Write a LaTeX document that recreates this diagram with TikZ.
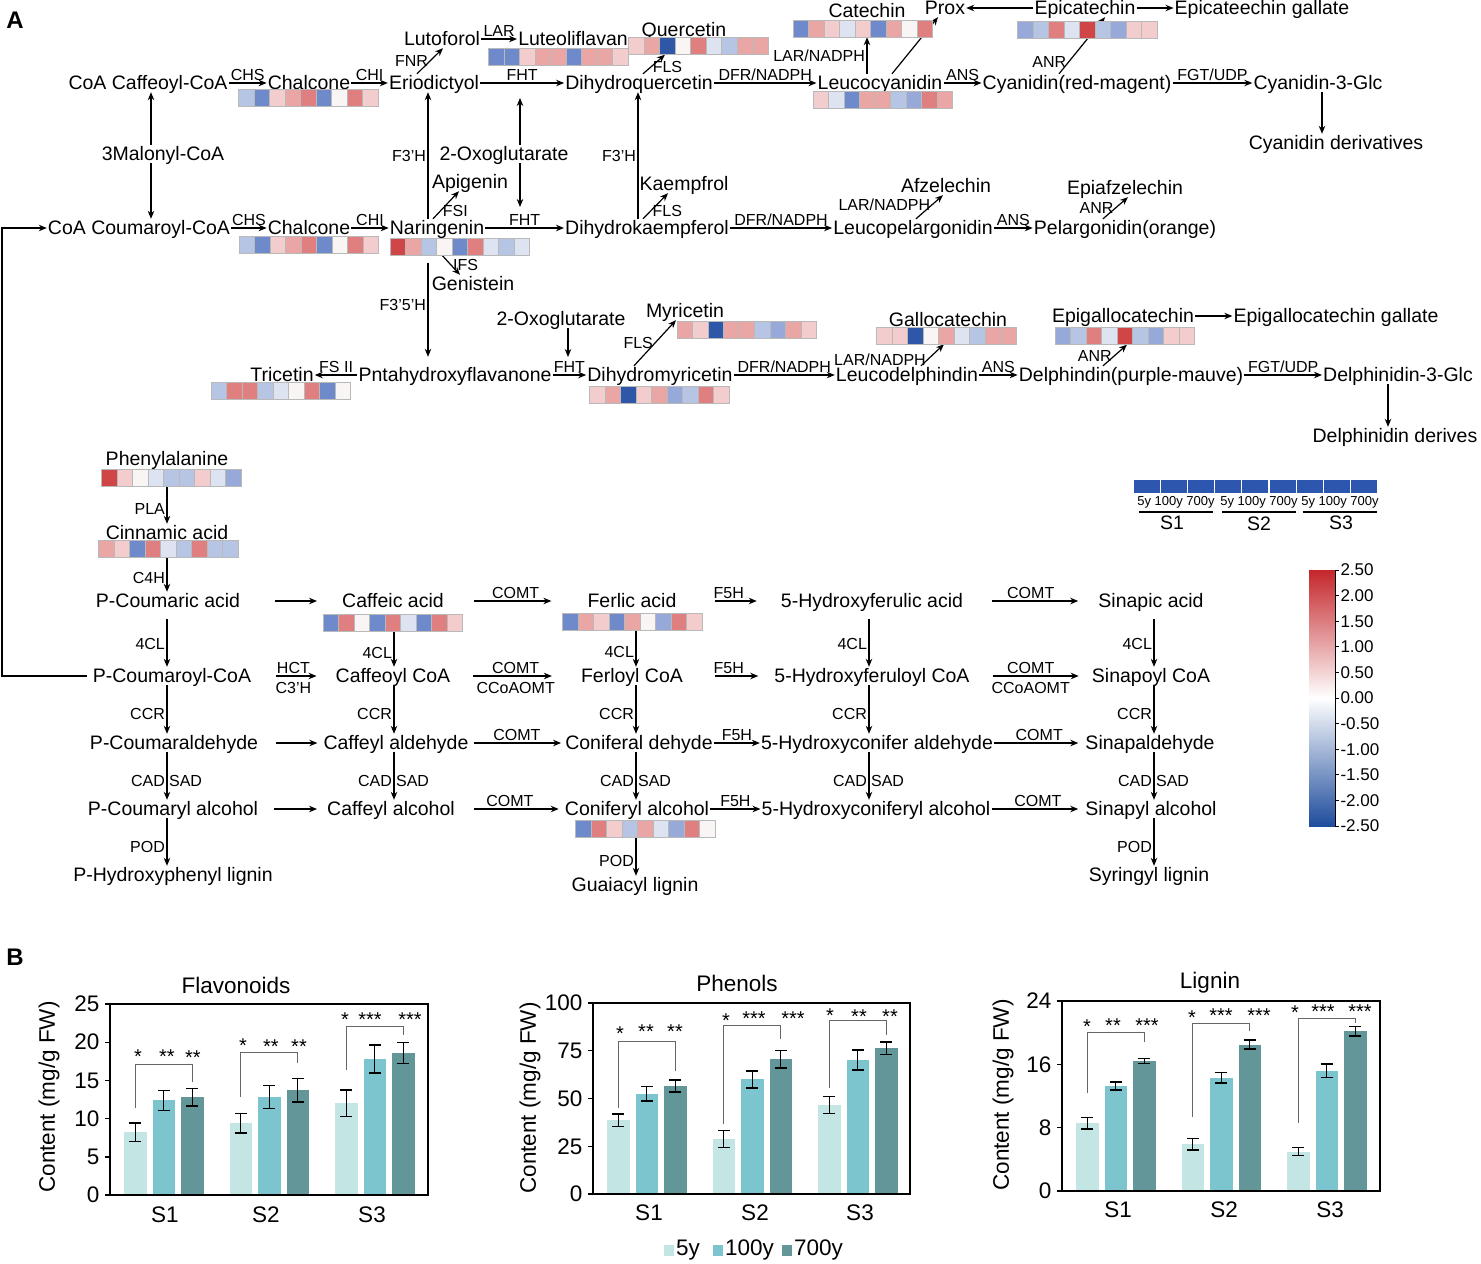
\documentclass[tikz,border=0pt]{standalone}
\usepackage{fontspec}
\setmainfont{Liberation Sans}
\usetikzlibrary{arrows.meta}

% heatmap shades
\definecolor{hR}{HTML}{D04545}
\definecolor{hS}{HTML}{E07F7F}
\definecolor{hP}{HTML}{EAA5A5}
\definecolor{hQ}{HTML}{F3CDCD}
\definecolor{hW}{HTML}{FAF5F5}
\definecolor{hL}{HTML}{DDE3F1}
\definecolor{hM}{HTML}{B7C5E4}
\definecolor{hN}{HTML}{96A9D8}
\definecolor{hB}{HTML}{6E8ACA}
\definecolor{hD}{HTML}{2F57A8}
\definecolor{legblue}{HTML}{2D56AE}
\definecolor{cbRed}{HTML}{C4262B}
\definecolor{cbBlue}{HTML}{1E4C9C}
% bar colours
\definecolor{bar0}{HTML}{C3E5E4}
\definecolor{bar1}{HTML}{7CC5CF}
\definecolor{bar2}{HTML}{629699}

% one row of heatmap cells in a heatmap node
\newcommand\hmrow[2]{%
  \foreach \hc [count=\hi from 0] in {#2}
    \draw[draw=gray!55, line width=0.6pt, fill=\hc] ([xshift=\hi*15.5pt]#1.north west) rectangle ++(15.5,17);
}

\begin{document}
\begin{tikzpicture}[x=1pt, y=-1pt,
    cpd/.style={inner sep=1pt, font=\fontsize{19.5}{22}\selectfont, text height=14pt, text depth=2pt},
    enz/.style={inner sep=1.5pt, font=\fontsize{16}{18}\selectfont},
    arr/.style={->, >={Stealth[length=8pt, width=6.5pt]}, line width=1.2pt},
    hmap/.style={minimum width=139.5pt, minimum height=17pt, inner sep=0pt},
    leg/.style={minimum width=26pt, minimum height=13pt, inner sep=0pt, fill=legblue},
    cbl/.style={font=\fontsize{17}{18}\selectfont, inner sep=1pt},
    axisline/.style={line width=1.4pt},
    errbar/.style={line width=1.4pt},
    brk/.style={gray!80!black, line width=1pt},
    chart/.style={font=\fontsize{22.5}{24}\selectfont},
    sig/.style={font=\fontsize{20}{20}\selectfont, inner sep=0pt, yshift=-4pt}]
\useasboundingbox (0,0) rectangle (1481,1264);

\node[font=\fontsize{24}{24}\selectfont\bfseries, inner sep=0pt] (labA) at (15,20) {A};
\node[font=\fontsize{24}{24}\selectfont\bfseries, inner sep=0pt] (labB) at (15,957) {B};

% flavonoid part
\node[cpd] (caff) at (148,83) {CoA Caffeoyl-CoA};
\node[cpd] (chal1) at (309,83) {Chalcone};
\node[cpd] (erio) at (434,83) {Eriodictyol};
\node[cpd] (dhq) at (639,83) {Dihydroquercetin};
\node[cpd] (leuc) at (880,83) {Leucocyanidin};
\node[cpd] (cyan) at (1077,83) {Cyanidin(red-magent)};
\node[cpd] (cy3g) at (1318,83) {Cyanidin-3-Glc};
\node[cpd] (cyder) at (1336,143) {Cyanidin derivatives};
\node[cpd] (luto) at (442,39) {Lutoforol};
\node[cpd] (lutl) at (573,39) {Luteoliflavan};
\node[cpd] (quer) at (684,30) {Quercetin};
\node[cpd] (cat) at (867,11) {Catechin};
\node[cpd] (prox) at (945,8) {Prox};
\node[cpd] (epic) at (1085,8) {Epicatechin};
\node[cpd] (epicg) at (1262,8) {Epicateechin gallate};
\node[cpd] (malo) at (163,154) {3Malonyl-CoA};
\node[cpd] (oxoA) at (504,154) {2-Oxoglutarate};
\node[cpd] (coum) at (139,228) {CoA Coumaroyl-CoA};
\node[cpd] (chal2) at (309,228) {Chalcone};
\node[cpd] (nar) at (437,228) {Naringenin};
\node[cpd] (api) at (470,182) {Apigenin};
\node[cpd] (gen) at (473,284) {Genistein};
\node[cpd] (dhk) at (647,228) {Dihydrokaempferol};
\node[cpd] (kae) at (684,184) {Kaempfrol};
\node[cpd] (leup) at (913,228) {Leucopelargonidin};
\node[cpd] (afz) at (946,186) {Afzelechin};
\node[cpd] (pel) at (1125,228) {Pelargonidin(orange)};
\node[cpd] (epiaf) at (1125,188) {Epiafzelechin};
\node[cpd] (penta) at (455,375) {Pntahydroxyflavanone};
\node[cpd] (tric) at (282,375) {Tricetin};
\node[cpd] (oxoB) at (561,319) {2-Oxoglutarate};
\node[cpd] (dhm) at (660,375) {Dihydromyricetin};
\node[cpd] (myr) at (685,311) {Myricetin};
\node[cpd] (leud) at (907,375) {Leucodelphindin};
\node[cpd] (gallo) at (948,320) {Gallocatechin};
\node[cpd] (delph) at (1131,375) {Delphindin(purple-mauve)};
\node[cpd] (epig) at (1123,316) {Epigallocatechin};
\node[cpd] (epigg) at (1336,316) {Epigallocatechin gallate};
\node[cpd] (de3g) at (1398,375) {Delphinidin-3-Glc};
\node[cpd] (deder) at (1395,436) {Delphinidin derives};

% phenylpropanoid part
\node[cpd] (phe) at (167,459) {Phenylalanine};
\node[cpd] (cin) at (167,533) {Cinnamic acid};
\node[cpd] (pca) at (168,601) {P-Coumaric acid};
\node[cpd] (pcoa) at (172,676) {P-Coumaroyl-CoA};
\node[cpd] (pcald) at (174,743) {P-Coumaraldehyde};
\node[cpd] (pcalc) at (173,809) {P-Coumaryl alcohol};
\node[cpd] (phl) at (173,875) {P-Hydroxyphenyl lignin};
\node[cpd] (cfa) at (393,601) {Caffeic acid};
\node[cpd] (cfcoa) at (393,676) {Caffeoyl CoA};
\node[cpd] (cfald) at (396,743) {Caffeyl aldehyde};
\node[cpd] (cfalc) at (391,809) {Caffeyl alcohol};
\node[cpd] (fea) at (632,601) {Ferlic acid};
\node[cpd] (fecoa) at (632,676) {Ferloyl CoA};
\node[cpd] (conald) at (639,743) {Coniferal dehyde};
\node[cpd] (conalc) at (637,809) {Coniferyl alcohol};
\node[cpd] (gul) at (635,885) {Guaiacyl lignin};
\node[cpd] (hfa) at (872,601) {5-Hydroxyferulic acid};
\node[cpd] (hfcoa) at (872,676) {5-Hydroxyferuloyl CoA};
\node[cpd] (hcald) at (877,743) {5-Hydroxyconifer aldehyde};
\node[cpd] (hcalc) at (876,809) {5-Hydroxyconiferyl alcohol};
\node[cpd] (sia) at (1151,601) {Sinapic acid};
\node[cpd] (sicoa) at (1151,676) {Sinapoyl CoA};
\node[cpd] (siald) at (1150,743) {Sinapaldehyde};
\node[cpd] (sialc) at (1151,809) {Sinapyl alcohol};
\node[cpd] (syl) at (1149,875) {Syringyl lignin};

% heatmap places
\node[hmap] (hChalA) at (308.5,98) {};
\node[hmap] (hLutl) at (558.5,56.5) {};
\node[hmap] (hQuer) at (698.5,46) {};
\node[hmap] (hCat) at (863,28.5) {};
\node[hmap] (hEpic) at (1087.5,29.5) {};
\node[hmap] (hLeuc) at (883,100) {};
\node[hmap] (hChalB) at (309,245) {};
\node[hmap] (hNar) at (460,246.5) {};
\node[hmap] (hTric) at (281,390.5) {};
\node[hmap] (hDhm) at (659.5,395) {};
\node[hmap] (hMyr) at (747,329.5) {};
\node[hmap] (hGallo) at (946.5,335.5) {};
\node[hmap] (hEpig) at (1125,336) {};
\node[hmap] (hPhe) at (171.5,478) {};
\node[hmap] (hCin) at (168.5,548.5) {};
\node[hmap] (hCfa) at (393,623) {};
\node[hmap] (hFea) at (632.5,621.5) {};
\node[hmap] (hConalc) at (645.5,829) {};

% x lines of vertical arrows
\coordinate (kmal) at (151,0);
\coordinate (kf1) at (428,0);
\coordinate (kox) at (520,0);
\coordinate (kf2) at (638,0);
\coordinate (kcat) at (867,0);
\coordinate (kcy) at (1322,0);
\coordinate (kox2) at (568,0);
\coordinate (kde) at (1388,0);
\coordinate (kfb) at (2,0);
\coordinate (k1) at (167,0);
\coordinate (k2) at (394,0);
\coordinate (k3) at (636,0);
\coordinate (k4) at (869,0);
\coordinate (k5) at (1154,0);
\coordinate (oxA1) at (520,98);
\coordinate (oxA2) at (520,207);
\coordinate (oxB1) at (568,357);

\foreach \a/\b/\t in {caff/chal1/CHS, chal1/erio/CHI, erio/dhq/FHT, dhq/leuc/{DFR/NADPH},
    leuc/cyan/ANS, cyan/cy3g/{FGT/UDP}, luto/lutl/LAR, coum/chal2/CHS, chal2/nar/CHI,
    nar/dhk/FHT, dhk/leup/{DFR/NADPH}, leup/pel/ANS, penta/tric/{FS II}, penta/dhm/FHT,
    dhm/leud/{DFR/NADPH}, leud/delph/ANS, delph/de3g/{FGT/UDP}, epic/prox/{}, epic/epicg/{},
    epig/epigg/{}}
  \path (\a) edge[arr] node[enz, above] {\t} (\b);

\draw[arr] ([xshift=-17pt]erio.north) -- node[enz, left, pos=.5] {FNR} ([xshift=1pt]luto.south);
\draw[arr] ([xshift=4pt]dhq.north) -- node[enz, right, pos=.35] {FLS} ([xshift=-33.5pt]hQuer.south);
\draw[arr] (leuc.north -| kcat) -- node[enz, left] {LAR/NADPH} (hCat.south -| kcat);
\draw[arr] ([xshift=12pt]leuc.north) -- ([xshift=-7pt]prox.south);
\draw[arr] ([xshift=-18pt]cyan.north) -- node[enz, left, pos=.2] {ANR} ([xshift=20pt]epic.south);
\draw[arr] (cy3g.south -| kcy) -- (cyder.north -| kcy);
\draw[arr] (malo.north -| kmal) -- (caff.south -| kmal);
\draw[arr] (malo.south -| kmal) -- (coum.north -| kmal);
\draw[arr] (oxoA.north -| kox) -- (oxA1);
\draw[arr] (oxoA.south -| kox) -- (oxA2);
\draw[arr] (nar.north -| kf1) -- node[enz, left] {F3'H} (erio.south -| kf1);
\draw[arr] (dhk.north -| kf2) -- node[enz, left] {F3'H} (dhq.south -| kf2);
\draw[arr] ([xshift=-4pt]nar.north) -- node[enz, right, pos=.3] {FSI} ([xshift=-11pt]api.south);
\draw[arr] ([xshift=-18pt]hNar.south) -- node[enz, right, pos=.5] {IFS} ([xshift=-13pt]gen.north);
\draw[arr, shorten <=8pt, shorten >=9pt] (hNar.south -| kf1) -- node[enz, left, pos=.45] {F3'5'H} (penta.north -| kf1);
\draw[arr] ([xshift=-4pt]dhk.north) -- node[enz, right, pos=.3] {FLS} ([xshift=-16pt]kae.south);
\draw[arr] ([xshift=3pt]leup.north) -- node[enz, left, pos=.6] {LAR/NADPH} ([xshift=-3pt]afz.south);
\draw[arr] ([xshift=-22pt]pel.north) -- node[enz, left, pos=.5] {ANR} ([xshift=3pt]epiaf.south);
\draw[arr] (oxoB.south -| kox2) -- (oxB1);
\draw[arr] ([xshift=-26pt]dhm.north) -- node[enz, left, pos=.5] {FLS} ([xshift=-9pt]myr.south);
\draw[arr] ([xshift=14pt]leud.north) -- node[enz, left, pos=.3] {LAR/NADPH} ([xshift=-2.5pt]hGallo.south);
\draw[arr] ([xshift=-28pt]delph.north) -- node[enz, left, pos=.45] {ANR} ([xshift=2pt]hEpig.south);
\draw[arr] (de3g.south -| kde) -- (deder.north -| kde);
\draw[arr, shorten <=5pt] (pcoa.west) -- (pcoa.west -| kfb) |- (coum.west);

% phenylpropanoid arrows
\foreach \a/\b/\k/\s/\l/\r in {hPhe/cin/k1/0/PLA/{}, hCin/pca/k1/0/C4H/{}, pca/pcoa/k1/9/4CL/{},
    pcoa/pcald/k1/0/CCR/{}, pcald/pcalc/k1/0/CAD/SAD, pcalc/phl/k1/0/POD/{},
    hCfa/cfcoa/k2/0/4CL/{}, cfcoa/cfald/k2/0/CCR/{}, cfald/cfalc/k2/0/CAD/SAD,
    hFea/fecoa/k3/0/4CL/{}, fecoa/conald/k3/0/CCR/{}, conald/conalc/k3/0/CAD/SAD, hConalc/gul/k3/0/POD/{},
    hfa/hfcoa/k4/9/4CL/{}, hfcoa/hcald/k4/0/CCR/{}, hcald/hcalc/k4/0/CAD/SAD,
    sia/sicoa/k5/9/4CL/{}, sicoa/siald/k5/0/CCR/{}, siald/sialc/k5/0/CAD/SAD, sialc/syl/k5/0/POD/{}}
  \draw[arr, shorten <=\s pt] (\a.south -| \k) -- node[enz, left, pos=.6] {\l} node[enz, right, pos=.6] {\r} (\b.north -| \k);

\foreach \a/\b/\sa/\sb/\t/\u in {pca/cfa/34/24/{}/{}, cfa/fea/29/35/COMT/{}, fea/hfa/37/23/F5H/{}, hfa/sia/28/19/COMT/{},
    pcoa/cfcoa/24/18/HCT/C3'H, cfcoa/fecoa/22/28/COMT/CCoAOMT, fecoa/hfcoa/31/15/F5H/{}, hfcoa/sicoa/22/12/COMT/CCoAOMT,
    pcald/cfald/17/5/{}/{}, cfald/conald/4/3/COMT/{}, conald/hcald/0/0/F5H/{}, hcald/siald/0/6/COMT/{},
    pcalc/cfalc/15/9/{}/{}, cfalc/conalc/18/5/COMT/{}, conalc/hcalc/0/0/F5H/{}, hcalc/sialc/0/6/COMT/{}}
  \path (\a) edge[arr, shorten <=\sa pt, shorten >=\sb pt] node[enz, above] {\t} node[enz, below=4pt] {\u} (\b);

% heatmaps
\hmrow{hChalA}{hM,hB,hQ,hP,hS,hB,hW,hS,hQ}
\hmrow{hChalB}{hM,hB,hQ,hP,hS,hB,hW,hS,hQ}
\hmrow{hLutl}{hB,hB,hQ,hP,hP,hB,hP,hP,hQ}
\hmrow{hQuer}{hQ,hP,hD,hW,hS,hL,hM,hP,hP}
\hmrow{hCat}{hB,hP,hQ,hL,hQ,hB,hP,hW,hS}
\hmrow{hEpic}{hN,hM,hS,hL,hR,hM,hN,hQ,hQ}
\hmrow{hLeuc}{hQ,hL,hB,hP,hP,hM,hN,hS,hP}
\hmrow{hNar}{hR,hP,hM,hW,hB,hS,hL,hM,hL}
\hmrow{hTric}{hM,hS,hS,hM,hL,hW,hS,hB,hW}
\hmrow{hDhm}{hQ,hP,hD,hQ,hP,hN,hM,hS,hQ}
\hmrow{hMyr}{hP,hQ,hD,hP,hP,hM,hN,hP,hQ}
\hmrow{hGallo}{hQ,hQ,hD,hW,hP,hL,hM,hP,hP}
\hmrow{hEpig}{hN,hM,hS,hL,hR,hM,hN,hQ,hQ}
\hmrow{hPhe}{hR,hQ,hW,hL,hM,hM,hQ,hL,hN}
\hmrow{hCin}{hP,hQ,hB,hS,hL,hM,hS,hM,hM}
\hmrow{hCfa}{hB,hS,hW,hB,hS,hL,hB,hS,hQ}
\hmrow{hFea}{hB,hP,hQ,hB,hP,hW,hN,hS,hQ}
\hmrow{hConalc}{hB,hS,hQ,hM,hP,hL,hN,hS,hW}

% sample legend
\foreach \i in {0,...,8}
  \node[leg] (lg\i) at (1146.6+27.2*\i,486.5) {};
\foreach \x/\s in {1176/S1, 1259/S2, 1340/S3}{
  \node[font=\fontsize{13}{13}\selectfont, inner sep=0pt] at (\x,502) {5y 100y 700y};
  \draw[line width=1.2pt] (\x-37,512) -- (\x+37,512);
}
\node[cpd] (legS1) at (1172,523) {S1};
\node[cpd] (legS2) at (1259,524) {S2};
\node[cpd] (legS3) at (1341,523) {S3};

% colour scale
\shade[top color=cbRed, bottom color=cbBlue, middle color=white] (1309,570) rectangle (1335,826);
\draw[line width=1pt] (1335,570) -- (1335,826);
\foreach \v [count=\j from 0] in {2.50,2.00,1.50,1.00,0.50,0.00,-0.50,-1.00,-1.50,-2.00,-2.50}
  \draw[line width=1pt] (1335,570+25.6*\j) -- ++(4,0) node[cbl, right] {\v};

% B: Flavonoids
\begin{scope}[shift={(110,1195)}, y=7.64pt]
  \foreach \g/\i/\v/\e in {0/0/8.2/1.2, 0/1/12.4/1.3, 0/2/12.8/1.15, 1/0/9.4/1.3, 1/1/12.8/1.5,
      1/2/13.7/1.55, 2/0/12.0/1.75, 2/1/17.8/1.85, 2/2/18.6/1.4}{
    \pgfmathsetmacro\xa{14+105.5*\g+28.5*\i}
    \pgfmathsetmacro\xc{\xa+11.25}
    \fill[bar\i] (\xa,0) rectangle ++(22.5,\v);
    \draw[errbar] (\xc,\v-\e) -- (\xc,\v+\e) (\xc-6,\v-\e) -- (\xc+6,\v-\e) (\xc-6,\v+\e) -- (\xc+6,\v+\e);
  }
  \foreach \g/\l/\t/\r in {0/11.4/17.1/14.8, 1/12.8/18.7/17.3, 2/16.4/22.1/20.9}
    \draw[brk] ({25.25+105.5*\g},\l) -- ({25.25+105.5*\g},\t) -- ({82.25+105.5*\g},\t) -- ({82.25+105.5*\g},\r);
  \foreach \v in {0,5,...,25}
    \draw[axisline] (-5,\v) -- (0,\v) node[chart, pos=0, left=4pt, inner sep=1pt] {\v};
  \draw[axisline] (0,0) rectangle (318,25);
\end{scope}
% B: Phenols
\begin{scope}[shift={(593,1194)}, y=1.91pt]
  \foreach \g/\i/\v/\e in {0/0/38.7/3.2, 0/1/52.4/3.75, 0/2/56.5/3.1, 1/0/28.8/4.6, 1/1/60/4.5,
      1/2/70.5/4.5, 2/0/46.6/4.3, 2/1/70.2/5.2, 2/2/76.3/3.3}{
    \pgfmathsetmacro\xa{14+105.5*\g+28.5*\i}
    \pgfmathsetmacro\xc{\xa+11.25}
    \fill[bar\i] (\xa,0) rectangle ++(22.5,\v);
    \draw[errbar] (\xc,\v-\e) -- (\xc,\v+\e) (\xc-6,\v-\e) -- (\xc+6,\v-\e) (\xc-6,\v+\e) -- (\xc+6,\v+\e);
  }
  \foreach \g/\l/\t/\r in {0/45/80.1/64.4, 1/36.6/88/81.2, 2/55.5/90.6/83.2}
    \draw[brk] ({25.25+105.5*\g},\l) -- ({25.25+105.5*\g},\t) -- ({82.25+105.5*\g},\t) -- ({82.25+105.5*\g},\r);
  \foreach \v in {0,25,50,75,100}
    \draw[axisline] (-5,\v) -- (0,\v) node[chart, pos=0, left=4pt, inner sep=1pt] {\v};
  \draw[axisline] (0,0) rectangle (317,100);
\end{scope}
% B: Lignin
\begin{scope}[shift={(1062,1191)}, y=7.917pt]
  \foreach \g/\i/\v/\e in {0/0/8.55/0.7, 0/1/13.25/0.5, 0/2/16.4/0.3, 1/0/5.9/0.7, 1/1/14.3/0.65,
      1/2/18.5/0.55, 2/0/4.96/0.5, 2/1/15.2/0.85, 2/2/20.2/0.6}{
    \pgfmathsetmacro\xa{14+105.5*\g+28.5*\i}
    \pgfmathsetmacro\xc{\xa+11.25}
    \fill[bar\i] (\xa,0) rectangle ++(22.5,\v);
    \draw[errbar] (\xc,\v-\e) -- (\xc,\v+\e) (\xc-6,\v-\e) -- (\xc+6,\v-\e) (\xc-6,\v+\e) -- (\xc+6,\v+\e);
  }
  \foreach \g/\l/\t/\r in {0/12.4/20.0/18.8, 1/9.35/21.2/20.2, 2/8.6/21.85/21.2}
    \draw[brk] ({25.25+105.5*\g},\l) -- ({25.25+105.5*\g},\t) -- ({82.25+105.5*\g},\t) -- ({82.25+105.5*\g},\r);
  \foreach \v in {0,8,16,24}
    \draw[axisline] (-5,\v) -- (0,\v) node[chart, pos=0, left=4pt, inner sep=1pt] {\v};
  \draw[axisline] (0,0) rectangle (318,24);
\end{scope}

% chart texts
\foreach \x/\y/\t in {236/985/Flavonoids, 737/983/Phenols, 1210/983/Lignin,
    165/1215/S1, 266/1215/S2, 372/1215/S3, 649/1213/S1, 755/1213/S2, 860/1213/S3,
    1118/1210/S1, 1224/1210/S2, 1330/1210/S3}
  \node[chart] at (\x,\y) {\t};
\foreach \x/\y in {49/1097, 530/1098, 1003/1095}
  \node[chart, rotate=90] at (\x,\y) {Content (mg/g FW)};
\foreach \x/\y/\t in {138/1053/*, 167/1053/**, 193/1054/**, 243/1042/*, 271/1043/**, 299/1043/**,
    345/1016/*, 370/1016/***, 410/1016/***,
    620/1030/*, 646/1028/**, 675/1028/**, 726/1017/*, 754/1015/***, 793/1015/***,
    830/1012/*, 859/1013/**, 890/1013/**,
    1087/1023/*, 1113/1022/**, 1147/1022/***, 1192/1014/*, 1221/1012/***, 1259/1012/***,
    1295/1009/*, 1323/1008/***, 1360/1008/***}
  \node[sig] at (\x,\y) {\t};

% bar legend
\foreach \x/\c/\t in {664/bar0/5y, 713/bar1/100y, 782/bar2/700y}{
  \fill[\c] (\x,1245) rectangle ++(10,11);
  \node[chart, right, inner sep=1pt] at (\x+11,1250) {\t};
}
\end{tikzpicture}
\end{document}
